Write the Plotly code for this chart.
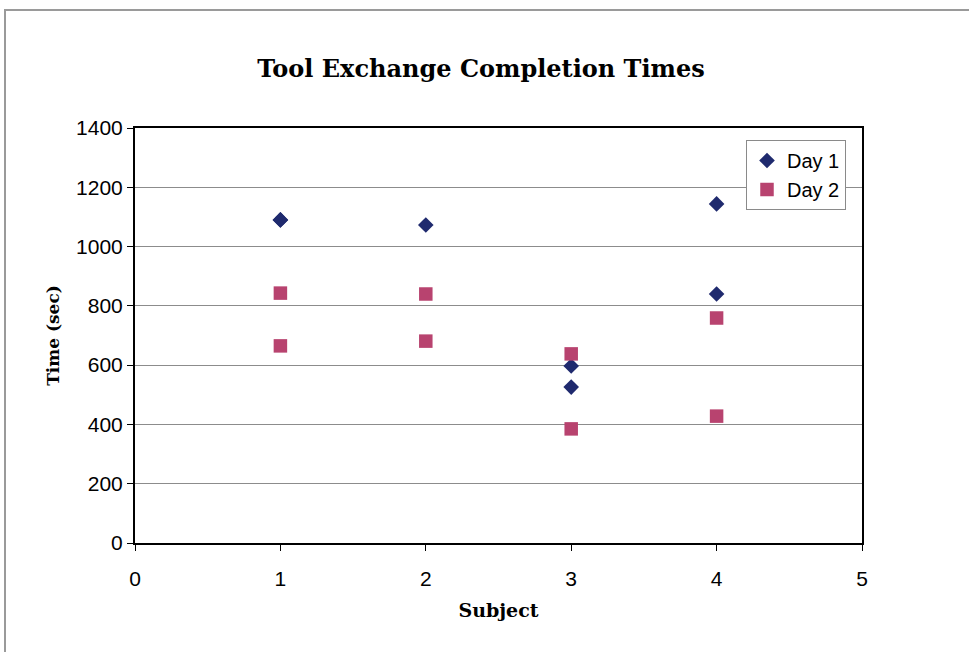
import plotly.graph_objects as go

# Completion times (seconds) per subject, two trials each day
day1_subject = [1, 1, 2, 3, 3, 4, 4]
day1_time = [1090, 1090, 1073, 597, 526, 1144, 840]
day2_subject = [1, 1, 2, 2, 3, 3, 4, 4]
day2_time = [843, 665, 840, 681, 638, 385, 759, 428]

x_ticks = [0, 1, 2, 3, 4, 5]
y_ticks = [0, 200, 400, 600, 800, 1000, 1200, 1400]

W, H = 969, 652
L, R, T, B = 135, 862, 128, 543

fig = go.Figure()
fig.add_trace(go.Scatter(
    x=day1_subject, y=day1_time, mode="markers", name="Day 1",
    marker=dict(symbol="diamond", size=12, color="#1f2a6e"),
))
fig.add_trace(go.Scatter(
    x=day2_subject, y=day2_time, mode="markers", name="Day 2",
    marker=dict(symbol="square", size=13.5, color="#b8436f"),
))

serif = "DejaVu Serif, Liberation Serif, serif"
sans = "Liberation Sans, Arial, sans-serif"

pw, ph = R - L, B - T


def px_x(p):
    return (p - L) / pw


def px_y(p):
    return (B - p) / ph


fig.update_layout(
    width=W, height=H,
    margin=dict(l=L, r=W - R, t=T, b=H - B),
    paper_bgcolor="white", plot_bgcolor="white",
    showlegend=True,
    title=dict(
        text="<b>Tool Exchange Completion Times</b>",
        font=dict(family=serif, size=24, color="black"),
        x=481 / W, xanchor="center", y=1 - 69 / H, yanchor="middle",
    ),
    legend=dict(
        x=px_x(746), xanchor="left", y=px_y(140), yanchor="top",
        bgcolor="white", bordercolor="#8a8a8a", borderwidth=1,
        font=dict(family=sans, size=20, color="black"),
        itemwidth=30, tracegroupgap=0,
    ),
    xaxis=dict(
        range=[0, 5], tickvals=x_ticks, ticktext=[str(v) for v in x_ticks],
        showgrid=False, zeroline=False,
        showline=True, linecolor="black", linewidth=2, mirror=True,
        ticks="outside", ticklen=6, tickcolor="black",
        ticklabelstandoff=10,
        tickfont=dict(family=sans, size=21, color="black"),
        title=dict(text="<b>Subject</b>", font=dict(family=serif, size=19, color="black"), standoff=14),
        fixedrange=True,
    ),
    yaxis=dict(
        range=[0, 1400], tickvals=y_ticks, ticktext=[str(v) for v in y_ticks],
        showgrid=True, gridcolor="#8c8c8c", gridwidth=1, zeroline=False,
        showline=True, linecolor="black", linewidth=2, mirror=True,
        ticks="outside", ticklen=6, tickcolor="black",
        tickfont=dict(family=sans, size=21, color="black"),
        title=dict(text="<b>Time (sec)</b>", font=dict(family=serif, size=17, color="black"), standoff=12),
        fixedrange=True,
    ),
)

# Chart-area border around the whole figure
fig.add_shape(
    type="rect", xref="paper", yref="paper",
    x0=px_x(5), x1=px_x(W + 10), y0=px_y(H + 10), y1=px_y(10),
    line=dict(color="#9a9a9a", width=2), fillcolor="rgba(0,0,0,0)", layer="below",
)

fig.write_html("out.html")
